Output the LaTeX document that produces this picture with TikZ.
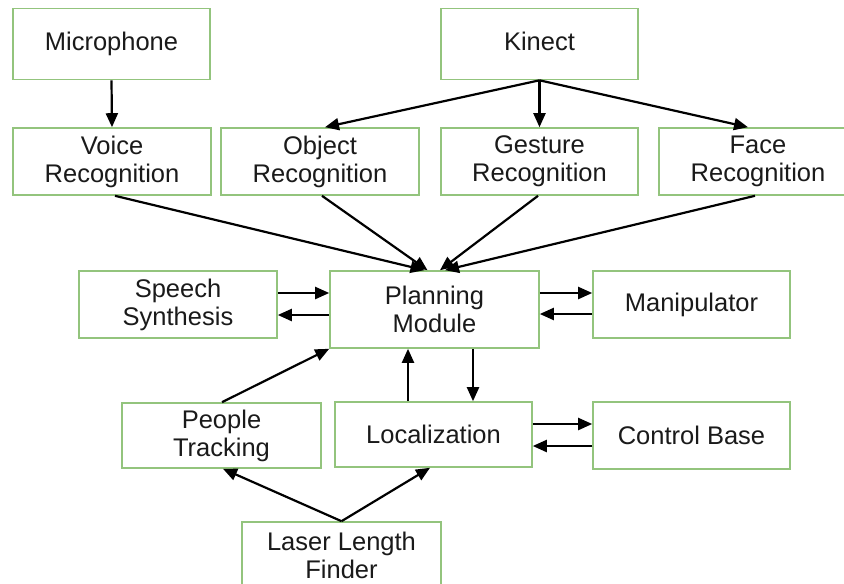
\documentclass[tikz,border=0pt]{standalone}
\usepackage{fontspec}
\setmainfont{Liberation Sans}
\usetikzlibrary{arrows.meta,calc}
\definecolor{boxgreen}{HTML}{93C47D}
\definecolor{txt}{HTML}{1A1A1A}
\tikzset{
  blk/.style={draw=boxgreen, line width=1.6pt, fill=white, rectangle, inner sep=0pt,
    minimum width=198pt, minimum height=67pt, align=center, text=txt,
    font=\fontsize{25.5}{28}\selectfont},
  arr/.style={-{Triangle[length=14pt,width=12pt]}, line width=2.2pt, black}
}
\begin{document}
\begin{tikzpicture}[x=1pt,y=-1pt]
\useasboundingbox (0,0) rectangle (844,584);
\clip (0,0) rectangle (844,584);
\fill[white] (0,0) rectangle (844,584);

\node[blk, minimum width=197pt, minimum height=71pt] (mic) at (111.5,44) {Microphone};
\node[blk, minimum width=197pt, minimum height=71pt] (kinect) at (539.5,44) {Kinect\vphantom{p}};
\node[blk] (voice) at (112,161.5) {Voice\\Recognition};
\node[blk] (object) at (320,161.5) {Object\\Recognition};
\node[blk, minimum width=197pt] (gesture) at (539.5,161.5) {Gesture\\Recognition};
\node[blk] (face) at (758,161.5) {Face\\Recognition};
\node[blk] (speech) at (178,304.5) {Speech\\Synthesis};
\node[blk, minimum width=209pt, minimum height=77pt] (planning) at (434.5,309.5) {Planning\\Module};
\node[blk, minimum width=197pt] (manip) at (691.5,304.5) {Manipulator};
\node[blk, minimum width=199pt, minimum height=65pt] (people) at (221.5,435.5) {People\\Tracking};
\node[blk, minimum width=197pt, minimum height=65pt] (local) at (433.5,434.5) {Localization};
\node[blk, minimum width=197pt] (control) at (691.5,435.5) {Control Base};
\node[blk, minimum width=199pt] (laser) at (341.5,555.5) {Laser Length\\Finder};

% sensors to recognisers
\draw[arr] (mic.south) -- (voice.north);
\draw[arr] (kinect.south) -- ($(object.north)+(5,0)$);
\draw[arr] (kinect.south) -- (gesture.north);
\draw[arr] (kinect.south) -- ($(face.north)+(-10,0)$);

% recognisers to planning
\draw[arr] ($(voice.south)+(3,0)$) -- ($(planning.north)+(-10,0)$);
\draw[arr] ($(object.south)+(2,0)$) -- ($(planning.north)+(-7,0)$);
\draw[arr] ($(gesture.south)+(-1.5,0)$) -- ($(planning.north)+(5.5,0)$);
\draw[arr] ($(face.south)+(-3,0)$) -- ($(planning.north)+(10.5,0)$);

% speech / manipulator
\draw[arr] (speech.east |- 0,293) -- (planning.west |- 0,293);
\draw[arr] (planning.west |- 0,315) -- (speech.east |- 0,315);
\draw[arr] (planning.east |- 0,293) -- (manip.west |- 0,293);
\draw[arr] (manip.west |- 0,314) -- (planning.east |- 0,314);

% planning / localization
\draw[arr] (local.north -| 408,0) -- (planning.south -| 408,0);
\draw[arr] (planning.south -| 473,0) -- (local.north -| 473,0);
\draw[arr] (local.east |- 0,424) -- (control.west |- 0,424);
\draw[arr] (control.west |- 0,446) -- (local.east |- 0,446);

% people tracking
\draw[arr] ($(people.north)+(0.5,0)$) -- (planning.south west);

% laser
\draw[arr] (laser.north) -- ($(people.south)+(1.5,0)$);
\draw[arr] (laser.north) -- ($(local.south)+(-3.5,0)$);
\end{tikzpicture}
\end{document}
